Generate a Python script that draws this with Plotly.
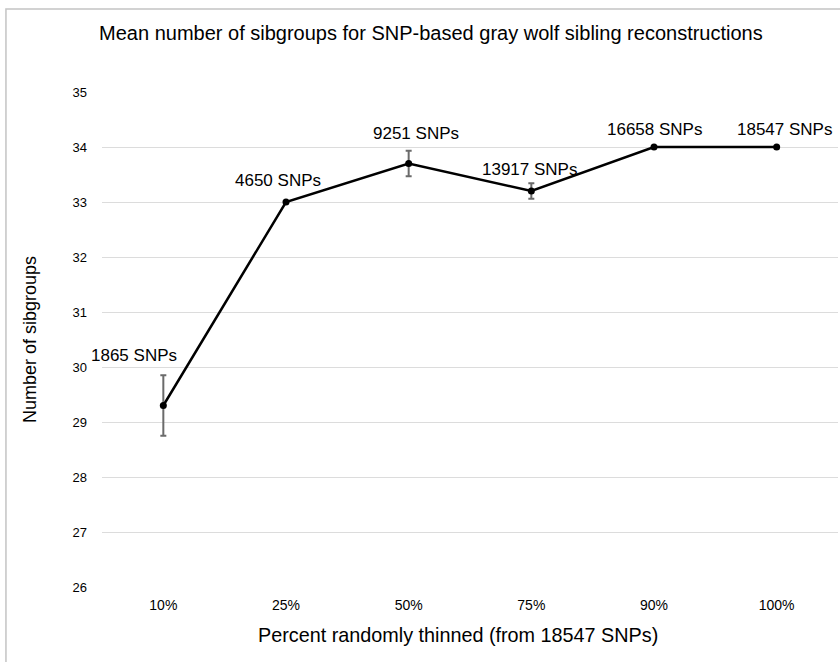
import plotly.graph_objects as go

categories = ["10%", "25%", "50%", "75%", "90%", "100%"]
mean_sibgroups = [29.3, 33.0, 33.7, 33.2, 34.0, 34.0]
error_vals = [0.55, 0.0, 0.23, 0.14, 0.0, 0.0]
snp_labels = ["1865 SNPs", "4650 SNPs", "9251 SNPs", "13917 SNPs", "16658 SNPs", "18547 SNPs"]
label_shift_x = [-29, -8, 7, -2, 0, 8]
label_shift_y = [50, 22, 30, 22, 18, 18]
y_ticks = list(range(26, 36))

FONT = "Liberation Sans, Arial, sans-serif"

fig = go.Figure()
fig.add_trace(go.Scatter(
    x=categories, y=mean_sibgroups, mode="lines+markers",
    line=dict(color="black", width=2.5),
    marker=dict(color="black", size=7),
    error_y=dict(type="data", array=error_vals, visible=True,
                 color="#6b6b6b", thickness=2, width=3),
    showlegend=False, cliponaxis=False,
))

for c, v, t, dx, dy in zip(categories, mean_sibgroups, snp_labels, label_shift_x, label_shift_y):
    fig.add_annotation(x=c, y=v, text=t, showarrow=False, xshift=dx, yshift=dy,
                       font=dict(family=FONT, size=17, color="black"))

# x-axis title as annotation (slightly left of plot centre as in the reference)
fig.add_annotation(xref="x", yref="paper", x=2.4, y=0, yanchor="middle",
                   yshift=-48, text="Percent randomly thinned (from 18547 SNPs)",
                   showarrow=False, font=dict(family=FONT, size=19.8, color="black"))

fig.add_shape(type="rect", xref="paper", yref="paper",
              x0=-0.1305, x1=1.2, y0=-0.3, y1=1.1677,
              line=dict(color="#c4c4c4", width=1.5), fillcolor="rgba(0,0,0,0)", layer="below")

fig.update_layout(
    width=840, height=662,
    margin=dict(l=102, r=2, t=92, b=75),
    paper_bgcolor="white", plot_bgcolor="white",
    title=dict(text="Mean number of sibgroups for SNP-based gray wolf sibling reconstructions",
               x=0.513, xref="container", xanchor="center", y=1 - 33 / 662, yanchor="middle",
               font=dict(family=FONT, size=20, color="black")),
    xaxis=dict(type="category", showgrid=False, zeroline=False, showline=False,
               ticks="", tickfont=dict(family=FONT, size=14, color="black"),
               ticklabelstandoff=8, range=[-0.5, 5.5]),
    yaxis=dict(range=[26, 35], tickvals=y_ticks, showgrid=True, gridcolor="#dcdcdc",
               gridwidth=1, zeroline=False, showline=False, ticks="",
               tickfont=dict(family=FONT, size=13, color="black"), ticklabelstandoff=14,
               title=dict(text="Number of sibgroups",
                          font=dict(family=FONT, size=18, color="black"), standoff=31)),
)

fig.write_html("out.html")
